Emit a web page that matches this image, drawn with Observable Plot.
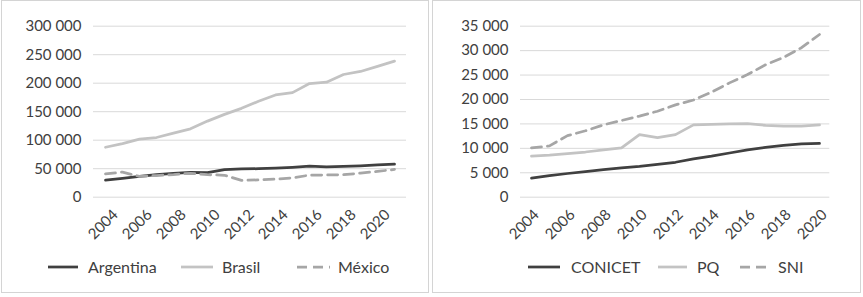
<!DOCTYPE html>
<html>
<head>
<meta charset="utf-8">
<script src="https://cdn.jsdelivr.net/npm/d3@7"></script>
<script src="https://cdn.jsdelivr.net/npm/@observablehq/plot@0.6"></script>
<style>
  html, body { margin: 0; padding: 0; background: #fff; }
  body { width: 863px; height: 297px; position: relative; overflow: hidden; font-family: Lato, sans-serif; color: #404040; }
  .panel { position: absolute; top: 0; height: 293px; box-sizing: border-box; border: 1px solid #d4d4d4; }
  .panel svg.plot { position: absolute; left: 0; top: 0; }
  .leg { position: absolute; height: 20px; line-height: 20px; font-size: 16px; color: #404040; white-space: nowrap; }
  .sw { position: absolute; }
</style>
</head>
<body>
<div id="p1" class="panel" style="left:1px;width:428px;"></div>
<div id="p2" class="panel" style="left:432px;width:429px;"></div>
<script>
// ---- Data ----
const years1 = [2004, 2005, 2006, 2007, 2008, 2009, 2010, 2011, 2012, 2013, 2014, 2015, 2016, 2017, 2018, 2019, 2020, 2021];
const argentina = [30000, 33000, 36500, 39500, 42000, 43500, 43000, 48500, 49500, 50000, 51000, 52500, 54500, 53000, 54000, 55000, 56500, 58000];
const brasil = [87600, 94100, 101800, 104700, 112400, 120000, 133500, 145300, 155900, 168200, 179400, 183500, 199400, 201800, 215300, 220600, 229400, 238800];
const mexico = [41000, 44000, 36500, 38000, 39500, 42000, 39500, 38500, 29500, 30300, 31700, 34000, 38700, 39000, 39400, 42300, 45200, 48700];

const years2 = [2004, 2005, 2006, 2007, 2008, 2009, 2010, 2011, 2012, 2013, 2014, 2015, 2016, 2017, 2018, 2019, 2020];
const conicet = [3900, 4400, 4850, 5250, 5650, 6000, 6300, 6700, 7150, 7850, 8400, 9050, 9700, 10200, 10600, 10900, 11000];
const pq = [8400, 8600, 8900, 9250, 9700, 10100, 12800, 12200, 12800, 14800, 14900, 15000, 15050, 14700, 14550, 14550, 14800];
const sni = [10100, 10500, 12600, 13600, 14800, 15700, 16600, 17600, 18900, 19900, 21500, 23400, 25100, 27100, 28600, 30600, 33300];

const yTicks1 = [0, 50000, 100000, 150000, 200000, 250000, 300000];
const yTicks2 = [0, 5000, 10000, 15000, 20000, 25000, 30000, 35000];
const xTicks1 = [2004, 2006, 2008, 2010, 2012, 2014, 2016, 2018, 2020];
const xTicks2 = [2004, 2006, 2008, 2010, 2012, 2014, 2016, 2018, 2020];

const legend1 = ["Argentina", "Brasil", "México"];
const legend2 = ["CONICET", "PQ", "SNI"];

// ---- Styles ----
const DARK = "#404040", LIGHT = "#c3c3c3", MID = "#a6a6a6", GRID = "#d9d9d9";
const DASH = "10,6";
const fmt = d3.formatLocale({thousands: " ", grouping: [3], decimal: ","}).format(",d");

function rows(years, values) { return years.map((year, i) => ({year, value: values[i]})); }

function chart({years, series, yDomain, yTicks, xTicks, width, marginLeft, marginRight, xdx, yPad}) {
  const [s1, s2, s3] = series;
  const svg = Plot.plot({
    width, height: 250,
    marginLeft, marginRight, marginTop: 24.7, marginBottom: 54.3,
    style: {fontFamily: "Lato, sans-serif", fontSize: "15px", color: DARK, background: "transparent", overflow: "visible"},
    x: {type: "point", domain: years, padding: 0.5, label: null},
    y: {domain: yDomain, label: null},
    marks: [
      Plot.ruleY(yTicks, {stroke: GRID, strokeWidth: 1}),
      Plot.axisY(yTicks, {tickSize: 0, tickPadding: yPad, tickFormat: fmt, label: null, fontSize: 15}),
      Plot.axisX(xTicks, {tickSize: 0, tickRotate: -45, tickPadding: 15, dx: xdx, tickFormat: d => String(d), label: null, fontSize: 15}),
      Plot.line(rows(years, s1), {x: "year", y: "value", stroke: DARK, strokeWidth: 2.75}),
      Plot.line(rows(years, s2), {x: "year", y: "value", stroke: LIGHT, strokeWidth: 2.75}),
      Plot.line(rows(years, s3), {x: "year", y: "value", stroke: MID, strokeWidth: 2.75, strokeDasharray: DASH})
    ]
  });
  svg.classList.add("plot");
  return svg;
}

document.getElementById("p1").appendChild(chart({
  years: years1, series: [argentina, brasil, mexico], yDomain: [0, 300000], yTicks: yTicks1, xTicks: xTicks1,
  width: 426, marginLeft: 91, marginRight: 22, xdx: 10, yPad: 12
}));
document.getElementById("p2").appendChild(chart({
  years: years2, series: [conicet, pq, sni], yDomain: [0, 35000], yTicks: yTicks2, xTicks: xTicks2,
  width: 427, marginLeft: 87, marginRight: 30.7, xdx: 5, yPad: 12
}));

// ---- Legends (page coordinates) ----
function addLegend(labels, items) {
  const colors = [DARK, LIGHT, MID];
  items.forEach((it, i) => {
    const sw = document.createElementNS("http://www.w3.org/2000/svg", "svg");
    sw.setAttribute("class", "sw");
    sw.setAttribute("width", it.x2 - it.x1);
    sw.setAttribute("height", 6);
    sw.style.left = it.x1 + "px";
    sw.style.top = (266.7 - 3) + "px";
    const ln = document.createElementNS("http://www.w3.org/2000/svg", "line");
    ln.setAttribute("x1", 0); ln.setAttribute("x2", it.x2 - it.x1);
    ln.setAttribute("y1", 3); ln.setAttribute("y2", 3);
    ln.setAttribute("stroke", colors[i]); ln.setAttribute("stroke-width", 2.75);
    if (i === 2) ln.setAttribute("stroke-dasharray", DASH);
    sw.appendChild(ln);
    document.body.appendChild(sw);
    const t = document.createElement("div");
    t.className = "leg";
    t.textContent = labels[i];
    t.style.left = it.tx + "px";
    t.style.top = "256.5px";
    document.body.appendChild(t);
  });
}
addLegend(legend1, [{x1: 48, x2: 78, tx: 88}, {x1: 181, x2: 213, tx: 222}, {x1: 297, x2: 330, tx: 338}]);
addLegend(legend2, [{x1: 528, x2: 560, tx: 571}, {x1: 658, x2: 687, tx: 697}, {x1: 740, x2: 770, tx: 778}]);
</script>
</body>
</html>
